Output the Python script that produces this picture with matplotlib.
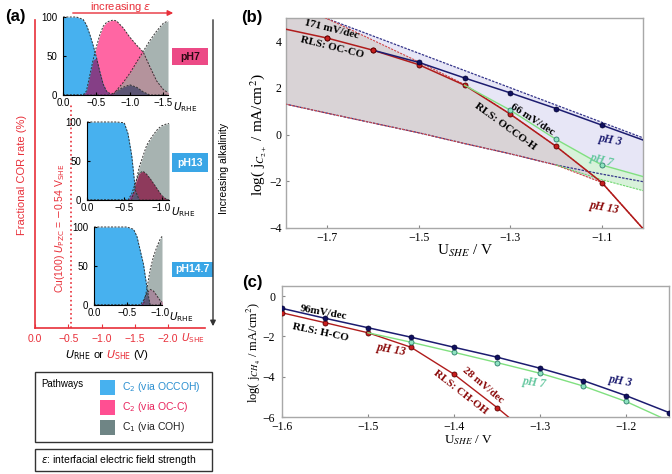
import numpy as np
import matplotlib.pyplot as plt
from matplotlib.patches import Rectangle

plt.rcParams['font.family'] = ['Liberation Sans', 'DejaVu Sans']
plt.rcParams['axes.unicode_minus'] = True

W, H = 672, 474
SERIF = 'Liberation Serif'

# ---------------- panel (a): fractional COR rate (%) vs U_RHE ----------------
u_ph7 = [0, -0.1, -0.2, -0.3, -0.35, -0.4, -0.45, -0.5, -0.55, -0.6, -0.65, -0.7,
         -0.75, -0.8, -0.9, -1.0, -1.1, -1.2, -1.3, -1.4, -1.5, -1.57]
occoh_ph7 = [100, 100, 100, 97, 90, 78, 64, 48, 30, 14, 5, 2, 2, 5, 10, 13, 10, 4, 0, 0, 0, 0]
occ_ph7 = [0, 0, 0, 0, 5, 25, 45, 62, 77, 88, 93, 95, 96, 95, 86, 74, 64, 55, 36, 18, 7, 3]
coh_ph7 = [0, 0, 0, 0, 0, 0, 0, 0, 0, 0, 0, 0, 0, 6, 16, 28, 42, 56, 70, 82, 92, 95]

u_ph13 = [0, -0.1, -0.2, -0.3, -0.4, -0.5, -0.55, -0.6, -0.65, -0.7, -0.75, -0.8,
          -0.85, -0.9, -0.95, -1.0, -1.05, -1.1]
occoh_ph13 = [100, 100, 100, 100, 100, 99, 85, 57, 12, 0, 0, 0, 0, 0, 0, 0, 0, 0]
occ_ph13 = [0, 0, 0, 0, 0, 0, 0, 8, 22, 34, 37, 33, 27, 20, 13, 6, 2, 0]
coh_ph13 = [0, 0, 0, 0, 0, 0, 0, 0, 20, 42, 56, 70, 78, 85, 91, 95, 97, 98]

u_ph147 = [0, -0.1, -0.2, -0.3, -0.4, -0.5, -0.6, -0.65, -0.7, -0.75, -0.8, -0.85,
           -0.9, -0.95, -1.0, -1.03]
occoh_ph147 = [100, 100, 100, 100, 100, 100, 97, 88, 70, 52, 23, 0, 0, 0, 0, 0]
occ_ph147 = [0, 0, 0, 0, 0, 0, 0, 0, 0, 6, 15, 20, 18, 12, 6, 4]
coh_ph147 = [0, 0, 0, 0, 0, 0, 0, 0, 0, 0, 20, 45, 62, 74, 84, 88]

she_ticks = [0.0, -0.5, -1.0, -1.5, -2.0]
pzc_she = -0.54

# ---------------- panel (b): log j(C2+) vs U_SHE ----------------
u_b = [-1.8, -1.7, -1.6, -1.5, -1.4, -1.3, -1.2, -1.1, -1.0]
ph13_b = [4.56, 4.14, 3.62, 3.0, 2.12, 0.88, -0.5, -2.05, -4.25]
ph13_up_b = [5.9, 4.97, 4.05, 3.12, 2.15, 0.88, -0.5, -2.05, -4.25]
ph13_lo_b = [1.35, 0.92, 0.5, 0.08, -0.38, -0.82, -1.3, -2.05, -4.25]
ph3_up_b = [5.7, 4.97, 4.23, 3.49, 2.75, 2.01, 1.27, 0.53, -0.21]
ph3_lo_b = [1.35, 0.92, 0.5, 0.08, -0.38, -0.82, -1.3, -1.69, -2.05]

u3_b = [-1.6, -1.5, -1.4, -1.3, -1.2, -1.1, -1.0]
ph3_b = [3.62, 3.1, 2.43, 1.79, 1.12, 0.41, -0.3]

u7_b = [-1.4, -1.3, -1.2, -1.1, -1.0]
ph7_b = [2.12, 1.05, -0.2, -1.3, -1.85]
u7d_b = [-1.2, -1.1, -1.0]
ph7_lo_b = [-1.3, -1.93, -2.45]
ph7_band_top = [-0.2, -1.3, -1.85]

# ---------------- panel (c): log j(CH4) vs U_SHE ----------------
u3_c = [-1.6, -1.55, -1.5, -1.45, -1.4, -1.35, -1.3, -1.25, -1.2, -1.15]
ph3_c = [-0.61, -1.10, -1.57, -2.04, -2.54, -3.03, -3.58, -4.19, -4.94, -5.78]
u13_c = [-1.6, -1.55, -1.5, -1.45, -1.4, -1.35, -1.3]
ph13_c = [-0.83, -1.32, -1.82, -2.54, -3.88, -5.53, -7.3]
u7_c = [-1.5, -1.45, -1.4, -1.35, -1.3, -1.25, -1.2, -1.15]
ph7_c = [-1.82, -2.29, -2.79, -3.3, -3.83, -4.46, -5.23, -6.2]

BLUE, PINK, GREY = '#47b1ef', '#ff66a3', '#a7b3b1'
RED = '#e8303a'
NAVY, DRED, GREEN = '#1c1c70', '#b01c1c', '#80e080'

fig = plt.figure(figsize=(W / 100, H / 100), dpi=100)


def px(x0, y0, x1, y1):
    return [x0 / W, 1 - y1 / H, (x1 - x0) / W, (y1 - y0) / H]


ov = fig.add_axes([0, 0, 1, 1])
ov.set_xlim(0, W)
ov.set_ylim(H, 0)
ov.axis('off')

# red outer U_SHE frame
axr = fig.add_axes(px(35, 20, 205, 328))
axr.patch.set_visible(False)
axr.set_xlim(0, -2.556)
axr.set_ylim(0, 1)
for s in ('top', 'right'):
    axr.spines[s].set_visible(False)
for s in ('left', 'bottom'):
    axr.spines[s].set_color(RED)
    axr.spines[s].set_linewidth(1.2)
axr.set_yticks([])
axr.set_xticks(she_ticks)
axr.set_xticklabels([f'{v:.1f}'.replace('-', '\u2212') for v in she_ticks])
axr.tick_params(axis='x', direction='in', length=3, color=RED, labelcolor=RED,
                labelsize=7.5, pad=4)
axr.axvline(pzc_she, ymin=0, ymax=(328 - 104) / 308, color=RED, ls=':', lw=1.2)


def inset(rect, u, b, p, g, xmax, xticks, pg_col):
    ax = fig.add_axes(px(*rect))
    u, b, p, g = map(np.array, (u, b, p, g))
    ax.fill_between(u, 0, g, color=GREY, lw=0)
    ax.fill_between(u, 0, p, color=PINK, lw=0)
    ax.fill_between(u, 0, b, color=BLUE, lw=0)
    ax.fill_between(u, 0, np.minimum(b, p), color='#853f86', lw=0)
    ax.fill_between(u, 0, np.minimum(p, g), color=pg_col, lw=0)
    ax.fill_between(u, 0, np.minimum(b, g), color='#5d7a90', lw=0)
    ax.fill_between(u, 0, np.minimum(np.minimum(b, p), g), color='#5c5574', lw=0)
    for v in (b, p, g):
        ax.plot(u, v, color='#333333', lw=0.7, ls=(0, (2, 1.5)), clip_on=False)
    ax.set_xlim(0, xmax)
    ax.set_ylim(0, 100)
    ax.set_yticks([0, 50, 100])
    ax.set_xticks(xticks)
    ax.set_xticklabels([f'{v:.1f}'.replace('-', '\u2212') for v in xticks])
    for s in ('top', 'right'):
        ax.spines[s].set_visible(False)
    for s in ('left', 'bottom'):
        ax.spines[s].set_linewidth(0.8)
    ax.tick_params(direction='in', length=2, labelsize=7, pad=2)
    ax.tick_params(axis='y', pad=4)
    ax.patch.set_visible(False)
    return ax


inset((63, 17, 168, 95), u_ph7, occoh_ph7, occ_ph7, coh_ph7, -1.57,
      [0, -0.5, -1.0, -1.5], '#b4939c')
inset((87, 122, 169, 200), u_ph13, occoh_ph13, occ_ph13, coh_ph13, -1.1,
      [0, -0.5, -1.0], '#8e3a5c')
inset((94, 227, 162, 305), u_ph147, occoh_ph147, occ_ph147, coh_ph147, -1.03,
      [0, -0.5, -1.0], '#a68a9c')

urhe = r'$U_{\mathrm{RHE}}$'
for x, y in ((173, 107), (171, 212), (169, 317)):
    ov.text(x, y, urhe, fontsize=7.5, ha='left', va='center', math_fontfamily='dejavusans')

for (x0, y0, x1, y1, fc, tc, lab) in ((172, 48, 208, 65, '#ec4a86', '#2a0a14', 'pH7'),
                                      (172, 153, 208, 172, '#3aa6e6', 'white', 'pH13'),
                                      (172, 262, 213, 277, '#3aa6e6', 'white', 'pH14.7')):
    ov.add_patch(Rectangle((x0, y0), x1 - x0, y1 - y0, fc=fc, ec='none'))
    ov.text((x0 + x1) / 2, (y0 + y1) / 2, lab, color=tc, fontsize=7.5, weight='bold',
            ha='center', va='center')

ov.text(5, 16, '(a)', fontsize=12, weight='bold', ha='left', va='center')
ov.annotate('', xy=(176, 13), xytext=(70, 13),
            arrowprops=dict(arrowstyle='-|>', color=RED, lw=1.0, mutation_scale=8))
ov.text(121, 7, r'increasing $\varepsilon$', color=RED, fontsize=8, ha='center',
        va='center', math_fontfamily='dejavusans')
ov.annotate('', xy=(213, 329), xytext=(213, 17),
            arrowprops=dict(arrowstyle='-|>', color='#333333', lw=1.0, mutation_scale=8))
ov.text(224, 168, 'Increasing alkalinity', rotation=90, fontsize=7.5, ha='center', va='center')
ov.text(22, 175, 'Fractional COR rate (%)', rotation=90, color=RED, fontsize=8,
        ha='center', va='center')
ov.text(60, 228, r'Cu(100) $U_{\mathrm{PZC}}$ = $-$0.54 V$_{\mathrm{SHE}}$', rotation=90,
        color=RED, fontsize=7.5, ha='center', va='center', math_fontfamily='dejavusans')
ov.text(193, 338, r'$U_{\mathrm{SHE}}$', color=RED, fontsize=7.5, ha='center', va='center',
        math_fontfamily='dejavusans')
ov.text(65, 355, r'$U_{\mathrm{RHE}}$', fontsize=8, ha='left', va='center', math_fontfamily='dejavusans')
ov.text(93, 355, 'or', fontsize=8, ha='left', va='center')
ov.text(106, 355, r'$U_{\mathrm{SHE}}$', color=RED, fontsize=8, ha='left', va='center',
        math_fontfamily='dejavusans')
ov.text(133, 355, '(V)', fontsize=8, ha='left', va='center')

# legend boxes
ov.add_patch(Rectangle((35, 372), 177, 70, fc='white', ec='#333333', lw=1))
ov.add_patch(Rectangle((35, 449), 177, 22, fc='white', ec='#333333', lw=1))
ov.text(41, 384, 'Pathways', fontsize=7, ha='left', va='center')
for y, fc, tc, lab in ((387, BLUE, '#2a8fd0', r'C$_2$ (via OCCOH)'),
                       (407, '#ff4f92', '#e8245c', r'C$_2$ (via OC-C)'),
                       (427, '#6f8585', '#222222', r'C$_1$ (via COH)')):
    ov.add_patch(Rectangle((100, y - 7.5), 15, 15, fc=fc, ec='none'))
    ov.text(122, y, lab, color=tc, fontsize=7.5, ha='left', va='center',
            math_fontfamily='dejavusans')
ov.text(41, 460, r'$\varepsilon$: interfacial electric field strength', fontsize=7.5,
        ha='left', va='center', math_fontfamily='dejavusans')


def style_serif(ax, ypad=3):
    for s in ax.spines.values():
        s.set_color('#a8a8a8')
        s.set_linewidth(1.0)
    ax.tick_params(direction='in', length=2.5, color='#888888', labelsize=8.5, pad=3)
    ax.tick_params(axis='y', pad=ypad)
    for lbl in ax.get_xticklabels() + ax.get_yticklabels():
        lbl.set_fontfamily(SERIF)


mk = dict(marker='o', ms=3.6)
txt = dict(family=SERIF, weight='bold', ha='center', va='center')

# ---------------- panel (b) ----------------
axb = fig.add_axes(px(286, 18, 643, 228))
axb.fill_between(u_b, ph3_lo_b, ph3_up_b, color='#e7e6f6', lw=0, zorder=1)
axb.fill_between(u7d_b, ph7_lo_b, ph7_band_top, color='#d8f2da', lw=0, zorder=1.5)
axb.fill_between(u_b, ph13_lo_b, ph13_up_b, color='#d9d3d6', lw=0, zorder=2)
axb.plot(u_b, ph3_up_b, color='#34348a', lw=0.9, ls=(0, (2, 1)), zorder=2.5)
axb.plot(u_b, ph3_lo_b, color='#34348a', lw=0.9, ls=(0, (2, 1)), zorder=2.5)
axb.plot(u_b, ph13_up_b, color='#d04848', lw=0.8, ls=(0, (2, 1)), zorder=2.6)
axb.plot(u_b, ph13_lo_b, color='#d04848', lw=0.8, ls=(0, (2, 1)), zorder=2.6)
axb.plot(u7d_b, ph7_lo_b, color='#70d870', lw=0.8, ls=(0, (2, 1)), zorder=2.6)
axb.plot(u_b, ph13_b, color=DRED, lw=1.1, zorder=3, markevery=list(range(1, 8)),
         mfc='#c81e1e', mec='#5a0000', mew=0.6, **mk)
axb.plot(u7_b, ph7_b, color=GREEN, lw=1.0, zorder=3.1, markevery=[1, 2, 3],
         mfc='#8fe3c0', mec='#2a7a6a', mew=0.6, **mk)
axb.plot(u3_b, ph3_b, color=NAVY, lw=1.1, zorder=3.2, markevery=[1, 2, 3, 4, 5],
         mfc='#101060', mec='#000030', mew=0.5, **mk)
axb.plot(u_b[1:3], ph13_b[1:3], ls='none', zorder=3.3, mfc='#c81e1e', mec='#5a0000',
         mew=0.6, **mk)
axb.set_xlim(-1.79, -1.01)
axb.set_ylim(-4, 5)
axb.set_xticks([-1.7, -1.5, -1.3, -1.1])
axb.set_yticks([-4, -2, 0, 2, 4])
style_serif(axb)

axb.text(-1.69, 4.52, '171 mV/dec', rotation=-14, fontsize=8, **txt, zorder=5)
axb.text(-1.69, 3.72, 'RLS: OC-CO', rotation=-14, fontsize=8, **txt, zorder=5)
axb.text(-1.252, 0.66, '66 mV/dec', rotation=-33, fontsize=8, **txt, zorder=5)
axb.text(-1.312, 0.36, 'RLS: OCCO-H', rotation=-36, fontsize=8, **txt, zorder=5)
axb.text(-1.08, -0.23, 'pH 3', rotation=-10, fontsize=8.5, color=NAVY, style='italic',
         family=SERIF, weight='bold', ha='center', va='center', zorder=5)
axb.text(-1.1, -1.09, 'pH 7', rotation=-15, fontsize=8.5, color='#66c8a0', style='italic',
         family=SERIF, weight='bold', ha='center', va='center', zorder=5)
axb.text(-1.093, -3.15, 'pH 13', rotation=-10, fontsize=8.5, color='#8b0a0a', style='italic',
         family=SERIF, weight='bold', ha='center', va='center', zorder=5)

ov.text(252, 17, '(b)', fontsize=12, weight='bold', ha='center', va='center')
ov.text(465, 251, r'U$_{SHE}$ / V', fontsize=11, family=SERIF, ha='center', va='center',
        math_fontfamily='stix')
ov.text(259, 135, r'log( j$_{C_{2+}}$ / mA/cm$^2$)', rotation=90, fontsize=11, family=SERIF,
        ha='center', va='center', math_fontfamily='stix')

# ---------------- panel (c) ----------------
axc = fig.add_axes(px(282, 286, 669, 417))
axc.plot(u13_c, ph13_c, color=DRED, lw=1.0, zorder=3, markevery=list(range(0, 6)),
         mfc='#c81e1e', mec='#5a0000', mew=0.6, **mk)
axc.plot(u7_c, ph7_c, color=GREEN, lw=1.0, zorder=3.1, markevery=list(range(1, 7)),
         mfc='#8fe3c0', mec='#2a7a6a', mew=0.6, **mk)
axc.plot(u3_c, ph3_c, color=NAVY, lw=1.1, zorder=3.2, mfc='#101060', mec='#000030',
         mew=0.5, **mk)
axc.set_xlim(-1.6, -1.15)
axc.set_ylim(-6, 0.5)
axc.set_xticks([-1.6, -1.5, -1.4, -1.3, -1.2])
axc.set_yticks([-6, -4, -2, 0])
style_serif(axc, ypad=5)

axc.text(-1.552, -0.8, '96mV/dec', rotation=-10, fontsize=8, **txt, zorder=5)
axc.text(-1.555, -1.8, 'RLS: H-CO', rotation=-12, fontsize=8, **txt, zorder=5)
axc.text(-1.473, -2.67, 'pH 13', rotation=-10, fontsize=8.5, color='#8b0a0a', style='italic',
         family=SERIF, weight='bold', ha='center', va='center', zorder=5)
axc.text(-1.366, -4.42, '28 mV/dec', rotation=-40, fontsize=8, color='#8b0a0a',
         family=SERIF, weight='bold', ha='center', va='center', zorder=5)
axc.text(-1.393, -4.78, 'RLS: CH-OH', rotation=-38, fontsize=8, color='#8b0a0a',
         family=SERIF, weight='bold', ha='center', va='center', zorder=5)
axc.text(-1.306, -4.32, 'pH 7', rotation=-8, fontsize=8.5, color='#66c8a0', style='italic',
         family=SERIF, weight='bold', ha='center', va='center', zorder=5)
axc.text(-1.206, -4.24, 'pH 3', rotation=-10, fontsize=8.5, color=NAVY, style='italic',
         family=SERIF, weight='bold', ha='center', va='center', zorder=5)

ov.text(252, 282, '(c)', fontsize=12, weight='bold', ha='center', va='center')
ov.text(469, 440, r'U$_{SHE}$ / V', fontsize=9.5, family=SERIF, ha='center', va='center',
        math_fontfamily='stix')
ov.text(254, 352, r'log( j$_{CH_4}$ / mA/cm$^2$)', rotation=90, fontsize=9, family=SERIF,
        ha='center', va='center', math_fontfamily='stix')

fig.savefig('out.png', dpi=100)
